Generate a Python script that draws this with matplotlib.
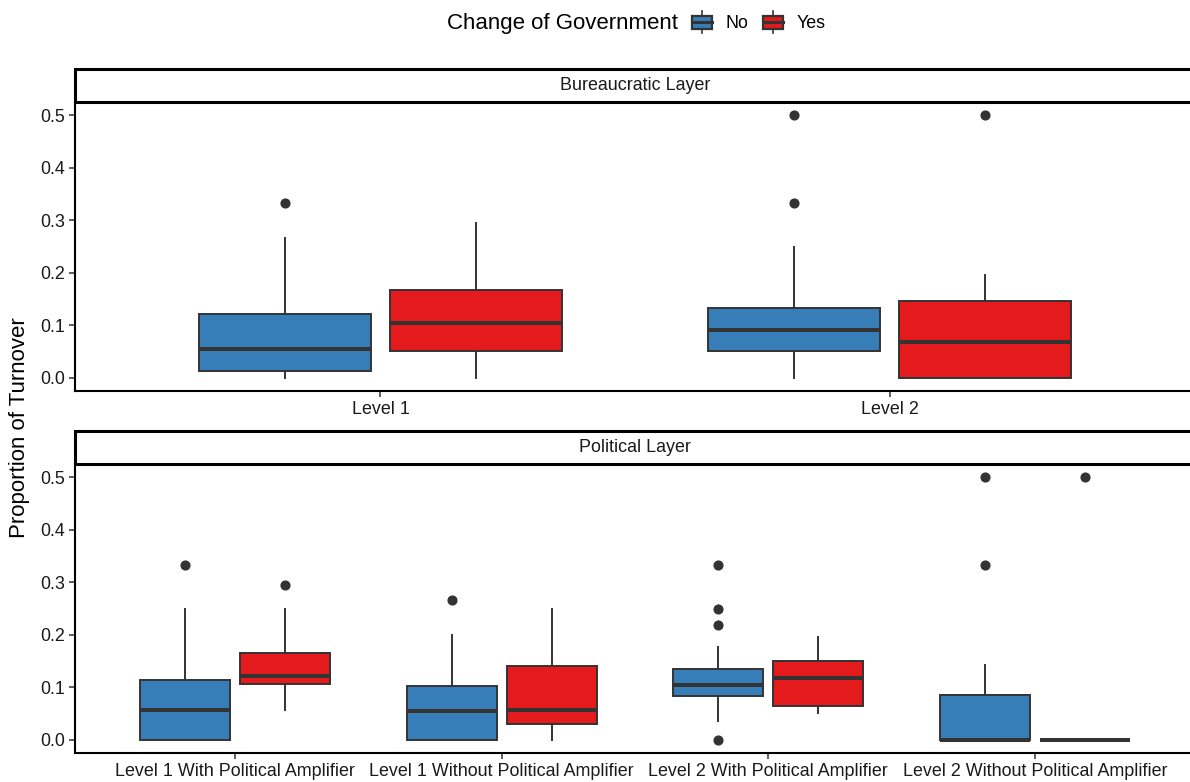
import numpy as np
import matplotlib
matplotlib.use("Agg")
import matplotlib.pyplot as plt
from matplotlib.patches import Rectangle, Patch
from matplotlib.lines import Line2D
from matplotlib.legend_handler import HandlerBase

plt.rcParams['font.family'] = ['Liberation Sans', 'DejaVu Sans']

# five-number summaries per box: [whisker low, q1, median, q3, whisker high]
bur_levels = ["Level 1", "Level 2"]
bur_no = [[0.0, 0.014, 0.055, 0.121, 0.267],
          [0.0, 0.052, 0.092, 0.133, 0.250]]
bur_no_out = [[0.333], [0.333, 0.5]]
bur_yes = [[0.0, 0.052, 0.105, 0.167, 0.294],
           [0.0, 0.0, 0.069, 0.147, 0.196]]
bur_yes_out = [[], [0.5]]

pol_levels = ["Level 1 With Political Amplifier", "Level 1 Without Political Amplifier",
              "Level 2 With Political Amplifier", "Level 2 Without Political Amplifier"]
pol_no = [[0.0, 0.0, 0.056, 0.113, 0.250],
          [0.0, 0.0, 0.054, 0.102, 0.200],
          [0.035, 0.084, 0.104, 0.134, 0.176],
          [0.0, 0.0, 0.0, 0.086, 0.143]]
pol_no_out = [[0.333], [0.267], [0.333, 0.25, 0.219, 0.0], [0.333, 0.5]]
pol_yes = [[0.056, 0.107, 0.122, 0.165, 0.250],
           [0.0, 0.030, 0.056, 0.140, 0.250],
           [0.051, 0.064, 0.117, 0.150, 0.195],
           [0.0, 0.0, 0.0, 0.0, 0.0]]
pol_yes_out = [[0.294], [], [], [0.5]]

groups = ["No", "Yes"]
colors = {"No": "#377EB8", "Yes": "#E41A1C"}
EDGE = "#333333"
W = 0.3375      # box width (dodge 0.75, padding 0.1)
OFF = 0.1875    # dodge offset
TICK_FS = 12.9
TITLE_FS = 16

W_PX, H_PX = 1190, 782
fig = plt.figure(figsize=(W_PX / 100, H_PX / 100), dpi=100)


def fig_box(x0, y0, x1, y1):
    return [x0 / W_PX, 1 - y1 / H_PX, (x1 - x0) / W_PX, (y1 - y0) / H_PX]


def make_stats(rows, outs):
    stats = []
    for r, o in zip(rows, outs):
        stats.append(dict(whislo=r[0], q1=r[1], med=r[2], q3=r[3], whishi=r[4], fliers=o))
    return stats


def draw_panel(ax, levels, no, no_out, yes, yes_out):
    x = np.arange(1, len(levels) + 1)
    for data, outs, sign, g in [(no, no_out, -1, "No"), (yes, yes_out, 1, "Yes")]:
        ax.bxp(make_stats(data, outs), positions=x + sign * OFF, widths=W,
               patch_artist=True, showcaps=False, manage_ticks=False,
               boxprops=dict(facecolor=colors[g], edgecolor=EDGE, linewidth=1.4),
               medianprops=dict(color=EDGE, linewidth=2.9, solid_capstyle='butt'),
               whiskerprops=dict(color=EDGE, linewidth=1.4),
               flierprops=dict(marker='o', markerfacecolor=EDGE, markeredgecolor=EDGE,
                               markersize=6.3, linestyle='none'))
    ax.set_xlim(0.4, len(levels) + 0.6)
    ax.set_ylim(-0.025, 0.525)
    ax.set_xticks(x)
    ax.set_xticklabels(levels)
    ax.set_yticks([0, 0.1, 0.2, 0.3, 0.4, 0.5])
    ax.set_yticklabels(["0.0", "0.1", "0.2", "0.3", "0.4", "0.5"])
    for s in ["top", "right"]:
        ax.spines[s].set_visible(False)
    for s in ["left", "bottom"]:
        ax.spines[s].set_linewidth(1.5)
        ax.spines[s].set_color("black")
    ax.tick_params(axis='both', length=4, width=1.1, color=EDGE, labelsize=TICK_FS,
                   labelcolor="#1a1a1a", pad=3)


def draw_strip(ax, label):
    ax.set_xlim(0, 1)
    ax.set_ylim(0, 1)
    ax.axis("off")
    ax.add_patch(Rectangle((0, 0), 1.2, 1, transform=ax.transAxes, facecolor="white",
                           edgecolor="black", linewidth=2.2, clip_on=False))
    # strip text centred on the panel width
    ax.text(0.5, 0.5, label, ha="center", va="center", fontsize=TICK_FS,
            color="#1a1a1a", transform=ax.transAxes)


ax_top = fig.add_axes(fig_box(75, 102, 1195, 391))
ax_bot = fig.add_axes(fig_box(75, 464, 1195, 753))
st_top = fig.add_axes(fig_box(75, 69, 1195, 102))
st_bot = fig.add_axes(fig_box(75, 431, 1195, 464))

draw_panel(ax_top, bur_levels, bur_no, bur_no_out, bur_yes, bur_yes_out)
draw_panel(ax_bot, pol_levels, pol_no, pol_no_out, pol_yes, pol_yes_out)
draw_strip(st_top, "Bureaucratic Layer")
draw_strip(st_bot, "Political Layer")

fig.text(20 / W_PX, 1 - 428 / H_PX, "Proportion of Turnover", rotation=90,
         ha="center", va="center", fontsize=TITLE_FS, color="black")


class BoxKey(HandlerBase):
    def create_artists(self, legend, orig_handle, xdescent, ydescent, width, height,
                       fontsize, trans):
        x0, y0 = -xdescent, -ydescent
        cx = x0 + width / 2
        whisk = Line2D([cx, cx], [y0 - 0.3 * height, y0 + 1.3 * height],
                       color=EDGE, lw=1.2, transform=trans)
        box = Rectangle((x0, y0), width, height,
                        facecolor=orig_handle.get_facecolor(), edgecolor=EDGE,
                        lw=1.6, transform=trans)
        med = Line2D([x0, x0 + width], [y0 + height / 2] * 2, color=EDGE, lw=2.2,
                     transform=trans)
        return [whisk, box, med]


handles = [Patch(facecolor=colors[g]) for g in groups]
fig.text(678 / W_PX, 1 - 24 / H_PX, "Change of Government", ha="right", va="center",
         fontsize=TITLE_FS, color="black")
fig.legend(handles, groups, handler_map={Patch: BoxKey()}, ncol=2, frameon=False,
           loc="center left", bbox_to_anchor=(692 / W_PX, 1 - 24 / H_PX),
           fontsize=TICK_FS, handlelength=1.1, handleheight=0.78, handletextpad=0.75,
           columnspacing=0.85, borderaxespad=0, borderpad=0)

fig.savefig("out.png", dpi=100)
